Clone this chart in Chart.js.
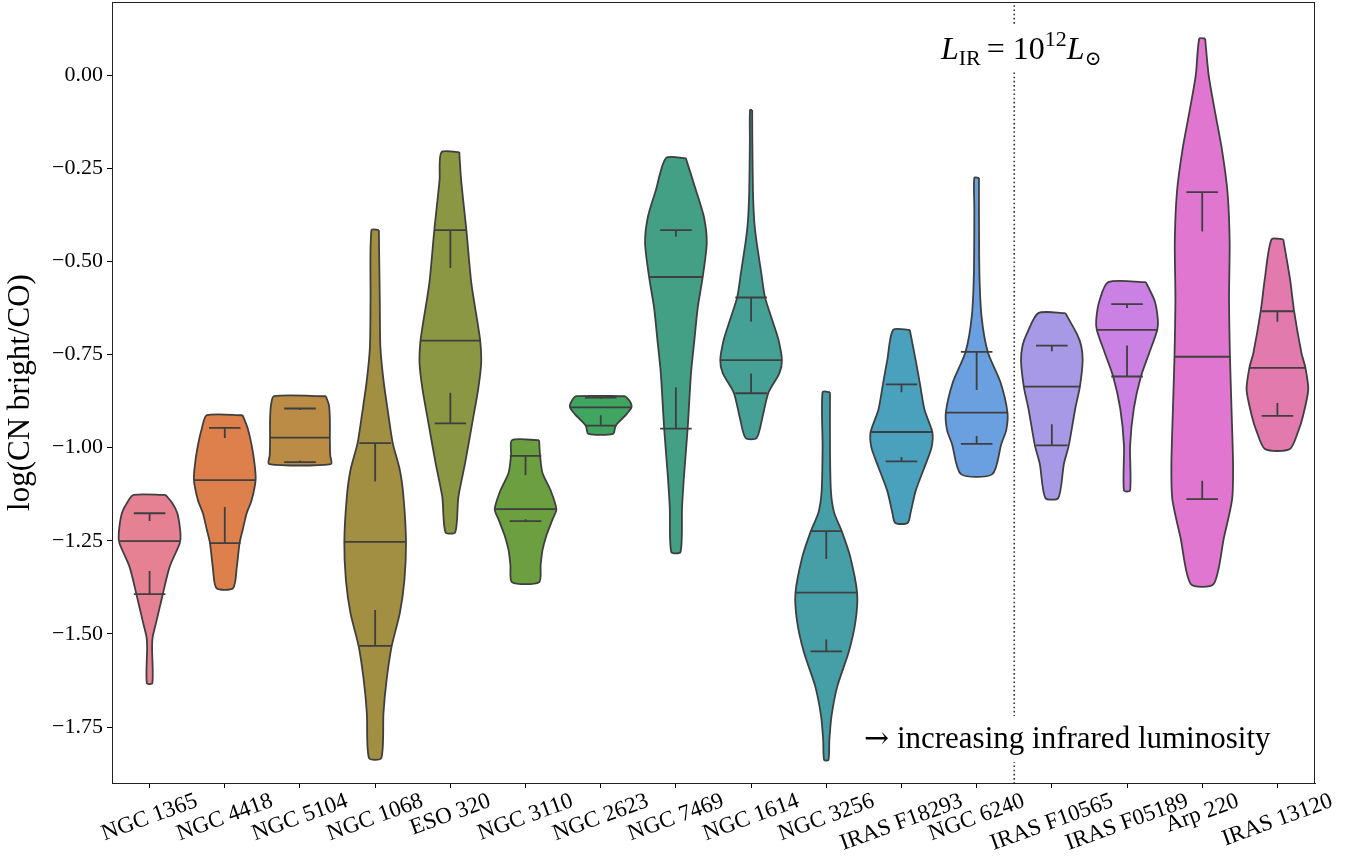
<!DOCTYPE html>
<html>
<head>
<meta charset="utf-8">
<script src="https://cdn.jsdelivr.net/npm/chart.js@4.4.0/dist/chart.umd.min.js"></script>
<style>
  html, body { margin: 0; padding: 0; background: #ffffff; }
  #wrap { width: 1360px; height: 856px; }
</style>
</head>
<body>
<div id="wrap"><canvas id="chart" width="1360" height="856"></canvas></div>
<script>
// Galaxies, ordered by infrared luminosity
const galaxies = ['NGC 1365', 'NGC 4418', 'NGC 5104', 'NGC 1068', 'ESO 320', 'NGC 3110',
  'NGC 2623', 'NGC 7469', 'NGC 1614', 'NGC 3256', 'IRAS F18293', 'NGC 6240',
  'IRAS F10565', 'IRAS F05189', 'Arp 220', 'IRAS 13120'];

const yTicks = [0, -0.25, -0.5, -0.75, -1, -1.25, -1.5, -1.75];

// Boundary between the galaxies below and above L_IR = 1e12 Lsun
const luminosityBreak = 11.5;

// Kernel density profiles: [log ratio, relative density], from the top of each violin down
const ngc1365 = [[-1.127, 0.52], [-1.149, 0.74], [-1.176, 0.9], [-1.229, 1.0], [-1.256, 0.98], [-1.320, 0.65], [-1.396, 0.42], [-1.463, 0.23], [-1.508, 0.1], [-1.535, 0.08], [-1.632, 0.09]];
const ngc4418 = [[-0.913, 0.58], [-0.947, 0.74], [-0.993, 0.87], [-1.047, 0.97], [-1.087, 1.0], [-1.141, 0.87], [-1.176, 0.71], [-1.221, 0.58], [-1.256, 0.48], [-1.320, 0.39], [-1.377, 0.27]];
const ngc5104 = [[-0.862, 0.84], [-0.886, 0.94], [-0.926, 0.97], [-0.980, 0.97], [-1.020, 0.98], [-1.044, 1.0]];
const ngc1068 = [[-0.416, 0.12], [-0.604, 0.15], [-0.730, 0.17], [-0.819, 0.27], [-0.907, 0.42], [-0.988, 0.57], [-1.060, 0.8], [-1.133, 0.92], [-1.253, 1.0], [-1.355, 0.95], [-1.444, 0.8], [-1.535, 0.53], [-1.624, 0.37], [-1.712, 0.27], [-1.833, 0.2]];
const eso320 = [[-0.207, 0.29], [-0.282, 0.35], [-0.416, 0.52], [-0.558, 0.68], [-0.658, 0.87], [-0.714, 0.97], [-0.773, 1.0], [-0.845, 0.9], [-0.934, 0.71], [-1.041, 0.48], [-1.133, 0.26], [-1.227, 0.16]];
const ngc3110 = [[-0.980, 0.44], [-1.020, 0.47], [-1.068, 0.55], [-1.114, 0.81], [-1.165, 1.0], [-1.194, 0.87], [-1.235, 0.68], [-1.275, 0.55], [-1.315, 0.49], [-1.361, 0.44]];
const ngc2623 = [[-0.862, 0.8], [-0.875, 0.94], [-0.891, 1.0], [-0.910, 0.84], [-0.926, 0.65], [-0.942, 0.48], [-0.963, 0.4]];
const ngc7469 = [[-0.223, 0.32], [-0.309, 0.65], [-0.381, 0.91], [-0.451, 1.0], [-0.542, 0.87], [-0.623, 0.71], [-0.711, 0.6], [-0.800, 0.49], [-0.950, 0.38], [-1.068, 0.27], [-1.159, 0.2], [-1.280, 0.15]];
const ngc1614 = [[-0.094, 0.035], [-0.174, 0.04], [-0.309, 0.06], [-0.389, 0.1], [-0.443, 0.17], [-0.531, 0.33], [-0.596, 0.45], [-0.666, 0.72], [-0.711, 0.89], [-0.765, 1.0], [-0.800, 0.92], [-0.853, 0.56], [-0.918, 0.37], [-0.974, 0.18]];
const ngc3256 = [[-0.851, 0.12], [-0.998, 0.12], [-1.116, 0.15], [-1.173, 0.25], [-1.224, 0.5], [-1.291, 0.77], [-1.390, 1.0], [-1.465, 0.95], [-1.548, 0.73], [-1.640, 0.36], [-1.720, 0.17], [-1.785, 0.1], [-1.838, 0.07]];
const irasF18293 = [[-0.684, 0.27], [-0.765, 0.46], [-0.829, 0.6], [-0.899, 0.75], [-0.958, 1.0], [-0.998, 0.98], [-1.039, 0.81], [-1.116, 0.46], [-1.173, 0.3], [-1.202, 0.2]];
const ngc6240 = [[-0.276, 0.075], [-0.358, 0.075], [-0.534, 0.09], [-0.649, 0.16], [-0.743, 0.36], [-0.824, 0.77], [-0.906, 1.0], [-0.953, 0.96], [-0.990, 0.8], [-1.071, 0.51]];
const irasF10565 = [[-0.639, 0.44], [-0.696, 0.82], [-0.726, 0.95], [-0.766, 1.0], [-0.836, 0.91], [-0.895, 0.76], [-0.994, 0.55], [-1.044, 0.39], [-1.135, 0.21]];
const irasF05189 = [[-0.556, 0.61], [-0.607, 0.9], [-0.657, 1.0], [-0.684, 0.98], [-0.746, 0.72], [-0.809, 0.45], [-0.895, 0.22], [-0.994, 0.1], [-1.115, 0.1]];
const arp220 = [[0.098, 0.094], [-0.001, 0.21], [-0.101, 0.42], [-0.200, 0.64], [-0.314, 0.82], [-0.448, 0.89], [-0.597, 0.87], [-0.756, 0.9], [-0.895, 0.95], [-1.044, 1.0], [-1.138, 0.97], [-1.243, 0.7], [-1.366, 0.37]];
const iras13120 = [[-0.441, 0.19], [-0.548, 0.41], [-0.633, 0.54], [-0.746, 0.78], [-0.786, 0.91], [-0.845, 1.0], [-0.915, 0.83], [-0.955, 0.68], [-1.004, 0.4]];

const profiles = [ngc1365, ngc4418, ngc5104, ngc1068, eso320, ngc3110, ngc2623, ngc7469,
  ngc1614, ngc3256, irasF18293, ngc6240, irasF10565, irasF05189, arp220, iras13120];

// Summary statistics drawn inside each violin
const medians    = [-1.251, -1.087, -0.973, -1.253, -0.713, -1.165, -0.892, -0.542, -0.765, -1.389, -0.958, -0.906, -0.836, -0.684, -0.756, -0.786];
const upperLines = [-1.176, -0.947, -0.895, -0.988, -0.416, -1.022, -0.866, -0.416, -0.597, -1.224, -0.830, -0.743, -0.726, -0.615, -0.314, -0.634];
const upperStems = [-1.197, -0.974, -0.899, -1.091, -0.518, -1.074, -0.869, -0.434, -0.662, -1.299, -0.851, -0.845, -0.741, -0.625, -0.420, -0.662];
const lowerLines = [-1.393, -1.256, -1.039, -1.532, -0.935, -1.197, -0.941, -0.949, -0.854, -1.547, -1.037, -0.990, -0.994, -0.809, -1.138, -0.915];
const lowerStems = [-1.331, -1.159, -1.035, -1.436, -0.853, -1.192, -0.913, -0.838, -0.801, -1.515, -1.025, -0.969, -0.937, -0.726, -1.089, -0.880];

const colors = ['#e68193', '#de804c', '#ba8c45', '#a38f42', '#8c9743', '#6b9f3f', '#41a562', '#43a085',
  '#45a096', '#469ea6', '#4aa1be', '#6aa0e0', '#a899e6', '#cb80e3', '#e076cf', '#e27aae'];

const EDGE = '#3f3f3f';
const HALF_WIDTH = 0.41;   // widest half-width of a violin, in category units
const CAP = 0.21;          // half-width of the short marker lines
const SERIF = '"Liberation Serif", "DejaVu Serif", serif';

function outline(i, prof) {
  const right = prof.map(([v, d]) => ({ x: i + d * HALF_WIDTH, y: v }));
  const left = prof.slice().reverse().map(([v, d]) => ({ x: i - d * HALF_WIDTH, y: v }));
  return [...right, ...left, right[0]];
}

function densityAt(prof, v) {
  for (let k = 0; k < prof.length - 1; k++) {
    const [v0, d0] = prof[k], [v1, d1] = prof[k + 1];
    if (v <= v0 && v >= v1) {
      const t = (v0 - v) / (v0 - v1 || 1);
      return d0 + t * (d1 - d0);
    }
  }
  return prof[prof.length - 1][1];
}

const datasets = [];
profiles.forEach((prof, i) => {
  datasets.push({
    data: outline(i, prof),
    borderColor: EDGE,
    borderWidth: 1.8,
    backgroundColor: colors[i],
    fill: 'shape',
    tension: 0.25,
    pointRadius: 0,
    order: 2
  });
  const w = densityAt(prof, medians[i]) * HALF_WIDTH;
  const gap = { x: i, y: null };
  datasets.push({
    data: [
      { x: i - w, y: medians[i] }, { x: i + w, y: medians[i] }, gap,
      { x: i - CAP, y: upperLines[i] }, { x: i + CAP, y: upperLines[i] }, gap,
      { x: i, y: upperLines[i] }, { x: i, y: upperStems[i] }, gap,
      { x: i - CAP, y: lowerLines[i] }, { x: i + CAP, y: lowerLines[i] }, gap,
      { x: i, y: lowerLines[i] }, { x: i, y: lowerStems[i] }
    ],
    borderColor: EDGE,
    borderWidth: 1.8,
    fill: false,
    tension: 0,
    pointRadius: 0,
    spanGaps: false,
    order: 1
  });
});

// dotted separator at L_IR = 1e12 Lsun
datasets.push({
  data: [{ x: luminosityBreak, y: 0.3 }, { x: luminosityBreak, y: -2.0 }],
  borderColor: '#333333',
  borderWidth: 1.6,
  borderDash: [1.6, 2.6],
  fill: false,
  pointRadius: 0,
  order: 3
});

const Y_MIN = -1.9, Y_MAX = 0.196;

const decorations = {
  id: 'decorations',
  afterDraw(chart) {
    const { ctx, chartArea: a, scales } = chart;
    const xs = scales.x;
    ctx.save();

    // frame around the plotting area
    ctx.strokeStyle = '#222222';
    ctx.lineWidth = 1;
    ctx.strokeRect(a.left + 0.5, a.top + 0.5, a.right - a.left - 1, a.bottom - a.top);

    // rotated galaxy names
    ctx.fillStyle = '#000000';
    ctx.font = '23px ' + SERIF;
    const ang = 20 * Math.PI / 180;
    galaxies.forEach((g, i) => {
      const x = xs.getPixelForValue(i);
      const w = ctx.measureText(g).width;
      const h = 20;
      const cy = a.bottom + 8 + (w * Math.sin(ang) + h * Math.cos(ang)) / 2;
      ctx.save();
      ctx.translate(x, cy);
      ctx.rotate(-ang);
      ctx.textAlign = 'center';
      ctx.textBaseline = 'middle';
      ctx.fillText(g, 0, 0);
      ctx.restore();
    });

    // L_IR = 10^12 Lsun label
    const pieces = [
      { t: 'L', font: 'italic 32px ' + SERIF },
      { t: 'IR', font: '22px ' + SERIF, dy: 6, gap: 6 },
      { t: '=', font: '32px ' + SERIF, gap: 8 },
      { t: '10', font: '32px ' + SERIF },
      { t: '12', font: '22px ' + SERIF, dy: -13 },
      { t: 'L', font: 'italic 32px ' + SERIF },
      { t: '\u2299', font: '20px "DejaVu Serif", serif', dy: 6 }
    ];
    let px = 941;
    const base = 59;
    let total = 0;
    pieces.forEach(p => { ctx.font = p.font; total += ctx.measureText(p.t).width + (p.gap || 0); });
    ctx.fillStyle = '#ffffff';
    ctx.fillRect(px - 8, 24, total + 18, 46);
    ctx.fillStyle = '#000000';
    ctx.textAlign = 'left';
    ctx.textBaseline = 'alphabetic';
    pieces.forEach(p => {
      ctx.font = p.font;
      ctx.fillText(p.t, px, base + (p.dy || 0));
      px += ctx.measureText(p.t).width + (p.gap || 0);
    });

    // arrow note
    const arrow = '\u2192';
    const note = ' increasing infrared luminosity';
    ctx.font = '30px "DejaVu Serif", serif';
    const aw = ctx.measureText(arrow).width;
    ctx.font = '31px ' + SERIF;
    const nw = ctx.measureText(note).width;
    ctx.fillStyle = '#ffffff';
    ctx.fillRect(858, 716, aw + nw + 14, 46);
    ctx.fillStyle = '#000000';
    ctx.font = '30px "DejaVu Serif", serif';
    ctx.fillText(arrow, 864, 748);
    ctx.font = '31px ' + SERIF;
    ctx.fillText(note, 864 + aw, 748);

    ctx.restore();
  }
};

new Chart(document.getElementById('chart'), {
  type: 'line',
  data: { datasets },
  options: {
    responsive: false,
    animation: false,
    devicePixelRatio: 1,
    layout: { padding: { top: 2, right: 45, bottom: 0, left: 0 } },
    plugins: { legend: { display: false }, tooltip: { enabled: false } },
    scales: {
      x: {
        type: 'linear',
        min: -0.5,
        max: galaxies.length - 0.5,
        afterBuildTicks: s => { s.ticks = galaxies.map((_, i) => ({ value: i })); },
        afterFit: s => { s.height = 73; s.paddingLeft = 0; s.paddingRight = 0; },
        ticks: { display: false },
        grid: { drawOnChartArea: false, drawTicks: true, tickLength: 5, color: '#000000', tickWidth: 1 },
        border: { display: true, color: '#222222', width: 1 }
      },
      y: {
        type: 'linear',
        min: Y_MIN,
        max: Y_MAX,
        afterBuildTicks: s => { s.ticks = yTicks.map(v => ({ value: v })); },
        afterFit: s => { s.width = 112; s.paddingTop = 0; s.paddingBottom = 0; },
        ticks: {
          color: '#000000',
          padding: 4,
          font: { family: SERIF, size: 22 },
          callback: v => (v < 0 ? '\u2212' : '') + Math.abs(v).toFixed(2)
        },
        grid: { drawOnChartArea: false, drawTicks: true, tickLength: 5, color: '#000000', tickWidth: 1 },
        border: { display: true, color: '#222222', width: 1 },
        title: {
          display: true,
          text: 'log(CN bright/CO)',
          color: '#000000',
          font: { family: SERIF, size: 31 },
          padding: { top: 2, bottom: 0 }
        }
      }
    }
  },
  plugins: [decorations]
});
</script>
</body>
</html>
